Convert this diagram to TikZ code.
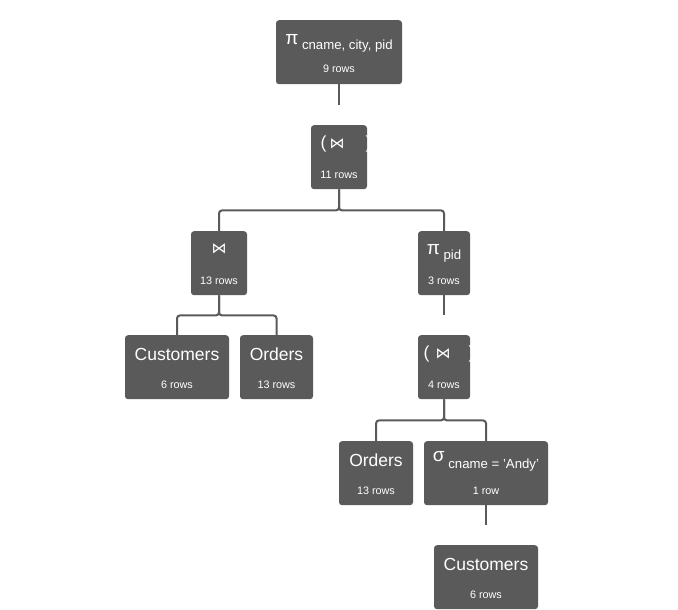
\documentclass[tikz,border=0pt]{standalone}
\usepackage{fontspec}
\setmainfont{Liberation Sans}
\newfontfamily\symfont{DejaVu Sans}
\usetikzlibrary{positioning}
\definecolor{opgray}{RGB}{90,90,90}

\begin{document}
\begin{tikzpicture}[x=1pt, y=-1pt]
    % Define styles
    \tikzstyle{opbox} = [rectangle, fill=opgray, rounded corners=3pt, minimum height=64pt, inner sep=0pt, anchor=north]
    \tikzstyle{optitle} = [text=white, inner sep=0pt, anchor=base, font=\fontsize{17.5}{20}\selectfont]
    \tikzstyle{rowcount} = [text=white, inner sep=0pt, anchor=base, font=\fontsize{10.8}{12}\selectfont]
    \tikzstyle{treeline} = [draw=opgray, line width=2pt, rounded corners=3pt]

    \useasboundingbox (0,0) rectangle (678,610);

    % Boxes
    \node [opbox, minimum width=126pt] (projAll) at (339,20) {};
    \node [optitle] (projAll-t) at ([yshift=-24.5pt]projAll.north) {{\fontsize{19}{19}\selectfont π}\raisebox{-5.5pt}{\fontsize{13.2}{13}\selectfont\ cname, city, pid}};
    \node [rowcount] (projAll-r) at ([yshift=-53pt]projAll.north) {9 rows};

    \node [opbox, minimum width=56pt] (joinTop) at (339,125) {};
    \node [optitle] (joinTop-t) at ([xshift=7pt, yshift=-23.5pt]joinTop.north) {(\hspace{3pt}{\symfont\fontsize{15}{15}\selectfont ⋈}\hspace{21pt})};
    \node [rowcount] (joinTop-r) at ([yshift=-53pt]joinTop.north) {11 rows};

    \node [opbox, minimum width=56pt] (joinCO) at (219,231) {};
    \node [optitle] (joinCO-t) at ([yshift=-22.5pt]joinCO.north) {{\symfont\fontsize{15}{15}\selectfont ⋈}};
    \node [rowcount] (joinCO-r) at ([yshift=-53pt]joinCO.north) {13 rows};

    \node [opbox, minimum width=52pt] (projPid) at (444,231) {};
    \node [optitle] (projPid-t) at ([yshift=-23pt]projPid.north) {{\fontsize{19}{19}\selectfont π}\raisebox{-5.5pt}{\fontsize{13.2}{13}\selectfont\ pid}};
    \node [rowcount] (projPid-r) at ([yshift=-53pt]projPid.north) {3 rows};

    \node [opbox, minimum width=104pt] (custL) at (177,335) {};
    \node [optitle] (custL-t) at ([yshift=-25pt]custL.north) {Customers};
    \node [rowcount] (custL-r) at ([yshift=-53pt]custL.north) {6 rows};

    \node [opbox, minimum width=73pt] (ordL) at (276.5,335) {};
    \node [optitle] (ordL-t) at ([yshift=-25pt]ordL.north) {Orders};
    \node [rowcount] (ordL-r) at ([yshift=-53pt]ordL.north) {13 rows};

    \node [opbox, minimum width=52pt] (joinSub) at (444,335) {};
    \node [optitle] (joinSub-t) at ([xshift=5pt, yshift=-23.5pt]joinSub.north) {(\hspace{6pt}{\symfont\fontsize{15}{15}\selectfont ⋈}\hspace{18pt})};
    \node [rowcount] (joinSub-r) at ([yshift=-53pt]joinSub.north) {4 rows};

    \node [opbox, minimum width=74pt] (ordR) at (376,441) {};
    \node [optitle] (ordR-t) at ([yshift=-25pt]ordR.north) {Orders};
    \node [rowcount] (ordR-r) at ([yshift=-53pt]ordR.north) {13 rows};

    \node [opbox, minimum width=124pt] (selAndy) at (486,441) {};
    \node [optitle] (selAndy-t) at ([yshift=-20pt]selAndy.north) {{\fontsize{19}{19}\selectfont σ}\raisebox{-7pt}{\fontsize{13.2}{13}\selectfont\ cname = 'Andy'}};
    \node [rowcount] (selAndy-r) at ([yshift=-53pt]selAndy.north) {1 row};

    \node [opbox, minimum width=104pt] (custR) at (486,545) {};
    \node [optitle] (custR-t) at ([yshift=-25pt]custR.north) {Customers};
    \node [rowcount] (custR-r) at ([yshift=-53pt]custR.north) {6 rows};

    % Links
    \draw [treeline] (projAll.south) -- ++(0,20.5);
    \draw [treeline] (joinTop.south) -- ++(0,21) -| (joinCO.north);
    \draw [treeline] (joinTop.south) -- ++(0,21) -| (projPid.north);
    \draw [treeline] (joinCO.south) -- ++(0,20) -| (custL.north);
    \draw [treeline] (joinCO.south) -- ++(0,20) -| (ordL.north);
    \draw [treeline] (projPid.south) -- ++(0,20);
    \draw [treeline] (joinSub.south) -- ++(0,21) -| (ordR.north);
    \draw [treeline] (joinSub.south) -- ++(0,21) -| (selAndy.north);
    \draw [treeline] (selAndy.south) -- ++(0,20);
\end{tikzpicture}
\end{document}
